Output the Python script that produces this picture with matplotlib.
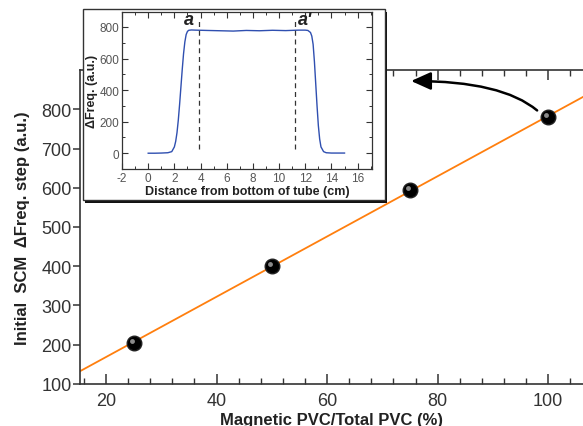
import numpy as np
import matplotlib
matplotlib.use('Agg')
import matplotlib.pyplot as plt
import matplotlib.transforms as mtransforms
from matplotlib.patches import Rectangle
from matplotlib.ticker import MultipleLocator

plt.rcParams['font.family'] = ['Liberation Sans', 'DejaVu Sans']
plt.rcParams['axes.unicode_minus'] = False

# main data
pvc_ratio = [25, 50, 75, 100]
freq_step = [205, 400, 595, 780]

# inset profile
dist = [0.0, 0.5, 1.0, 1.5, 1.8, 2.0, 2.1, 2.2, 2.3, 2.4, 2.5, 2.6, 2.7, 2.8,
        2.9, 3.0, 3.1, 3.3, 3.6, 4.5, 5.5, 6.5, 7.5, 8.5, 9.5, 10.5, 11.5,
        12.0, 12.2, 12.4, 12.5, 12.6, 12.7, 12.8, 12.9, 13.0, 13.1, 13.2,
        13.4, 13.6, 14.0, 15.0]
dfreq = [0, 0, 1, 3, 10, 40, 75, 130, 210, 310, 420, 530, 630, 705,
         752, 772, 779, 781, 780, 778, 776, 774, 778, 776, 779, 777, 780,
         780, 778, 765, 742, 690, 580, 440, 300, 175, 90, 40,
         10, 3, 1, 1]
marks_x = [3.9, 11.2]
marks_lbl = ['a', "a'"]

fig = plt.figure(figsize=(5.83, 4.27), dpi=100)
ax = fig.add_axes([0.1372, 0.0984, 0.8628, 0.7353])
ax.set_zorder(0)

# linear fit
k, b = np.polyfit(pvc_ratio, freq_step, 1)
xl = np.array([15.3, 106.3])
ax.plot(xl, k * xl + b, color='#ff7f0e', lw=1.3, zorder=2)

ax.plot(pvc_ratio, freq_step, 'o', ms=10.5, color='black', mec='#222222', zorder=3)
hl = ax.transData + mtransforms.ScaledTranslation(-1.5 / 72, 1.5 / 72, fig.dpi_scale_trans)
ax.plot(pvc_ratio, freq_step, 'o', ms=3.5, color='#9a9a9a', mec='none', alpha=0.9,
        transform=hl, zorder=4)

ax.set_xlim(15.3, 106.3)
ax.set_ylim(100, 900)
ax.set_xticks([20, 40, 60, 80, 100])
ax.xaxis.set_minor_locator(MultipleLocator(4))
ax.set_yticks([100, 200, 300, 400, 500, 600, 700, 800])
ax.spines['right'].set_visible(False)
for s in ['left', 'bottom', 'top']:
    ax.spines[s].set_linewidth(1.2)
    ax.spines[s].set_color('#333333')
ax.tick_params(axis='x', which='both', direction='in', top=True, color='#333333')
ax.tick_params(axis='x', which='major', length=7, width=1.1, labelsize=13,
               labelcolor='#333333', pad=6)
ax.tick_params(axis='x', which='minor', length=4, width=1.0)
ax.tick_params(axis='y', direction='out', length=5, width=1.1, labelsize=13,
               labelcolor='#333333', color='#333333', pad=1)
ax.set_xlabel('Magnetic PVC/Total PVC (%)', fontsize=12, fontweight='bold',
              color='#222222', labelpad=2)
ax.set_ylabel('Initial  SCM  \u0394Freq. step (a.u.)', fontsize=12,
              fontweight='bold', color='#222222', labelpad=8)

ax.annotate('', xy=(75.2, 872), xytext=(98, 797),
            arrowprops=dict(arrowstyle='-|>,head_length=1.0,head_width=0.45',
                            connectionstyle='angle3,angleA=140,angleB=0',
                            color='black', lw=1.8, mutation_scale=12,
                            shrinkA=0, shrinkB=0))

# inset frame with shadow
fig.patches.append(Rectangle((0.1458, 0.5222), 0.518, 0.4473, transform=fig.transFigure,
                             facecolor='#111111', edgecolor='none', zorder=1))
fig.patches.append(Rectangle((0.1424, 0.5293), 0.518, 0.4473, transform=fig.transFigure,
                             facecolor='white', edgecolor='#333333', lw=1.0, zorder=1.1))

ins = fig.add_axes([0.2093, 0.6019, 0.4288, 0.3677])
ins.set_zorder(2)
ins.plot(dist, dfreq, color='#2f4fb0', lw=1.0)
for xm, lb, dx in zip(marks_x, marks_lbl, [-0.8, 0.8]):
    ins.plot([xm, xm], [25, 850], ls='--', color='#333333', lw=0.9, dashes=(4, 3))
    ins.text(xm + dx, 850, lb, fontsize=13, fontweight='bold', style='italic',
             ha='center', va='center', color='#222222')
ins.set_xlim(-2, 17.1)
ins.set_ylim(-100, 895)
ins.set_xticks(range(-2, 17, 2))
ins.xaxis.set_minor_locator(MultipleLocator(1))
ins.set_yticks([0, 200, 400, 600, 800])
ins.yaxis.set_minor_locator(MultipleLocator(100))
for s in ins.spines.values():
    s.set_linewidth(0.9)
    s.set_color('#333333')
ins.tick_params(which='both', direction='in', top=True, right=True, color='#333333',
                labelsize=8.5, labelcolor='#555555', pad=2)
ins.tick_params(which='major', length=4, width=0.8)
ins.tick_params(which='minor', length=2, width=0.7)
ins.set_xlabel('Distance from bottom of tube (cm)', fontsize=9, fontweight='bold',
               color='#222222', labelpad=1)
ins.set_ylabel('\u0394Freq. (a.u.)', fontsize=9, fontweight='bold',
               color='#222222', labelpad=1)

fig.savefig('out.png', dpi=100)
